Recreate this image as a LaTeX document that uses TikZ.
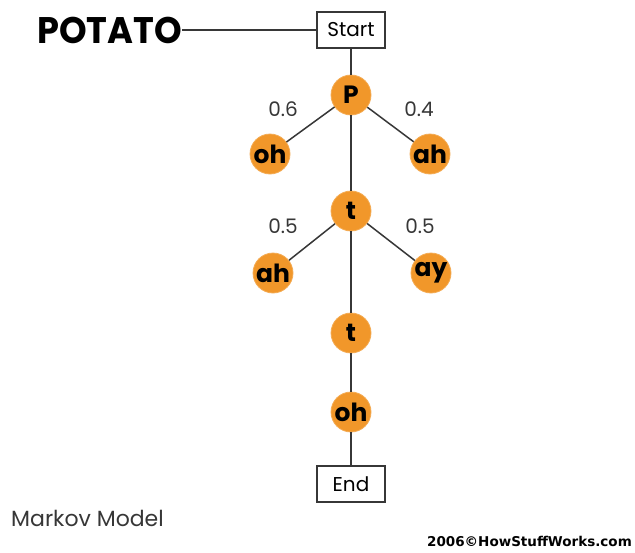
\documentclass[tikz,border=0pt]{standalone}
\usepackage{fontspec}
\setmainfont{Poppins}
\newfontfamily\copyfont{DejaVu Sans}
\definecolor{orng}{RGB}{241,151,42}
\definecolor{lnc}{RGB}{55,55,55}
\begin{document}
\begin{tikzpicture}[x=1pt,y=-1pt,
  state/.style={circle,fill=orng,draw=orng!80,line width=0.8pt,minimum size=40pt,inner sep=0pt,
     font=\fontsize{25}{25}\selectfont\bfseries},
  term/.style={draw=lnc,line width=1.5pt,fill=white,minimum width=68pt,minimum height=36pt,inner sep=0pt,
     font=\fontsize{20}{20}\selectfont},
  prob/.style={font=\fontsize{20}{20}\selectfont,text=lnc},
  conn/.style={draw=lnc,line width=1.5pt}]
\useasboundingbox[fill=white] (0,0) rectangle (635,552);
% nodes
\node[term] (start) at (351,30) {Start};
\node[anchor=west,inner sep=0pt,font=\fontsize{37}{37}\selectfont\bfseries,xscale=0.95] (potato) at (37,30) {POTATO};
\node[state] (P) at (351,95) {P};
\node[state] (oh1) at (270,154) {oh};
\node[state] (ah1) at (430,154) {ah};
\node[state] (t1) at (351,211) {t};
\node[state] (ah2) at (273,273) {ah};
\node[state] (ay) at (431,273) {ay};
\node[state] (t2) at (351,333) {t};
\node[state] (oh2) at (351,412) {oh};
\node[term] (end) at (351,484) {End};
% connectors
\draw[conn] (potato.east) -- (start.west);
\draw[conn] (start) -- (P);
\draw[conn] (P) -- (oh1);
\draw[conn] (P) -- (ah1);
\draw[conn] (P) -- (t1);
\draw[conn] (t1) -- (ah2);
\draw[conn] (t1) -- (ay);
\draw[conn] (t1) -- (t2);
\draw[conn] (t2) -- (oh2);
\draw[conn] (oh2) -- (end);
% probabilities
\node[prob] (p06) at (283,109) {0.6};
\node[prob] (p04) at (419,109) {0.4};
\node[prob] (p05a) at (283,226) {0.5};
\node[prob] (p05b) at (420,226) {0.5};
% captions
\node[anchor=west,inner sep=0pt,font=\fontsize{22}{22}\selectfont,text=lnc] (mm) at (11,518) {Markov Model};
\node[anchor=east,inner sep=0pt,font=\copyfont\fontsize{13.5}{13.5}\selectfont\bfseries] (cr) at (632,541) {2006©HowStuffWorks.com};
\end{tikzpicture}
\end{document}
